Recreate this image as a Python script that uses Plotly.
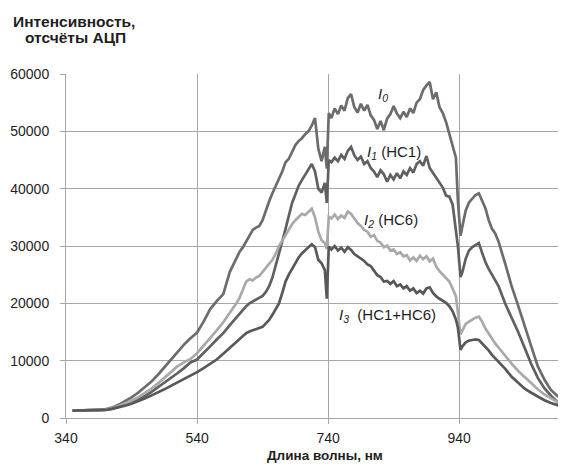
import plotly.graph_objects as go

# Wavelength sampling points, nm
wavelength = [
    350, 360, 370, 380, 390, 400, 410, 420, 430, 440, 450, 460, 470, 480, 490, 500,
    510, 520, 530, 540, 550, 560, 570, 580, 590, 600,
    605, 610, 615, 620, 625, 630, 635, 640, 645, 650, 655, 660, 665, 670, 675, 680,
    685, 690, 695, 700, 705, 710, 715, 720, 725, 730, 735,
    738, 741,
    745, 750, 755, 760, 765, 770, 775, 780, 785, 790,
    795, 800, 805, 810, 815, 820, 825, 830, 835, 840,
    845, 850, 855, 860, 865, 870, 875, 880, 885, 890,
    895, 900, 905, 910, 915, 920, 925, 930, 935,
    938, 942,
    945, 950, 955, 960, 965, 970, 975, 980, 985, 990, 995, 1000,
    1010, 1020, 1030, 1040, 1050, 1060, 1070, 1080, 1090, 1100,
]

I0 = [
    1300, 1300, 1300, 1350, 1400, 1500, 1800, 2300, 2900, 3600, 4400, 5300, 6300, 7500, 8800, 10100,
    11500, 12800, 13900, 14900, 16800, 19000, 20400, 21600, 25500, 27800,
    29000, 29800, 30800, 32000, 32800, 33200, 33500, 34500, 36300, 37800, 39200, 40500, 41600, 43000, 44600, 45200,
    46400, 47600, 48300, 48800, 49500, 50000, 51000, 52300, 47000, 44800, 47300,
    43500, 53200,
    52300, 54000, 53000, 54500, 53600, 55800, 56500, 54200, 53300, 54800,
    53600, 54600, 52800, 52000, 50400, 51800, 50200, 52200, 53000, 54400,
    53100, 52300, 53400, 52500, 54000, 53200, 55000, 55600, 57200, 58000,
    58600, 55600, 56800, 54200, 53200, 51600, 49600, 47400, 45400,
    38000, 31800,
    33500, 36200, 37600, 38300, 38900, 39200, 38000, 36600, 34500, 33000, 32200, 30800,
    27000, 23000, 19600, 16200, 12500, 9000, 6700, 4900, 3800, 3100,
]

I1 = [
    1300, 1300, 1300, 1300, 1350, 1400, 1600, 1900, 2300, 2700, 3200, 3800, 4500, 5300, 6200, 7000,
    7800, 8700, 9700, 10200, 11300, 12500, 13700, 14800, 16200, 17500,
    18200, 18900, 19500, 20000, 20300, 20600, 20900, 21300, 22000, 23000, 24500, 26500, 28800, 30800, 33000, 35500,
    37500, 39000, 40500, 41500, 42500, 43500, 44300, 43000, 40000, 39300, 41000,
    37500, 45000,
    44600, 45400, 44800, 45900, 45200, 46600, 47300, 45800, 45000, 45600,
    44300, 44800, 43600, 43000, 42000, 43200, 42500, 41200, 42400, 41600,
    42700, 41800, 43000, 42400, 43600, 42800, 44300, 44800, 44000, 45700,
    43600, 42800, 41800, 41200, 40200, 38800, 38600, 37200, 33000,
    30000, 24600,
    25500, 27800, 29200, 29800, 30200, 30500, 28800, 27200, 26000, 25000, 24100, 23000,
    20000, 17600, 15000, 12200, 9400, 7000, 5200, 3900, 2800, 2100,
]

I2 = [
    1300, 1300, 1300, 1300, 1350, 1450, 1700, 2100, 2500, 3000, 3600, 4300, 5100, 6000, 7000, 8100,
    9000, 9700, 10300, 11300, 12600, 14000, 15300, 16700, 18300, 20000,
    21000, 22300, 23800, 24200, 24000, 24500, 24800, 25500, 26300, 26900, 27600, 28600, 30000, 31000, 32000, 33000,
    33800, 34500, 35000, 35600, 35400, 36000, 36500, 35000, 32500, 31000, 30500,
    29500, 35100,
    34800, 35500, 34700, 35300, 34900, 36000, 35600, 34800, 34000, 33500,
    32800, 32500, 31600, 31900, 30900, 30600, 29800, 30100, 29200, 29400,
    28600, 28900, 28200, 28400, 27500, 28000, 27400, 28300, 27700, 28200,
    27300, 27800, 26400, 25600, 25000, 24300, 23800, 22600, 21200,
    18500, 14600,
    15300, 16400, 16800, 17200, 17500, 17700, 16800, 15600, 14700, 13800, 13000, 12300,
    10800, 9500, 8200, 7100, 6000, 5000, 4100, 3400, 2800, 2300,
]

I3 = [
    1300, 1300, 1300, 1300, 1300, 1400, 1600, 1850, 2150, 2500, 2900, 3400, 3900, 4400, 5000, 5600,
    6200, 6700, 7300, 8000, 8700, 9500, 10200, 11200, 12300, 13300,
    13800, 14300, 14800, 15100, 15300, 15500, 15700, 15900, 16500, 17100, 18000, 19000, 20000, 21800, 23800, 25000,
    26000, 27200, 28000, 28700, 29300, 29800, 30300, 29800, 27600, 27000, 25800,
    20800, 29900,
    29400, 30000, 29200, 29700, 29000, 29800, 29300, 28600, 28200, 27800,
    27400, 26800, 26500, 25700, 24900, 24600, 23800, 23900, 23400, 23900,
    23000, 23300, 22600, 23000, 22200, 22600, 21800, 22200, 21700, 22600,
    22800, 21800, 21200, 20800, 20400, 20100, 19500, 18600, 17200,
    15800, 11900,
    12500, 13200, 13500, 13600, 13700, 13600, 13000, 12300, 11800, 11000, 10400, 9800,
    8600, 7200, 6100, 5100, 4400, 3700, 3100, 2600, 2200, 1900,
]

x_ticks = [340, 540, 740, 940]
y_ticks = [0, 10000, 20000, 30000, 40000, 50000, 60000]

series = [
    ("I0", I0, "#6c6c6c"),
    ("I1", I1, "#606060"),
    ("I2", I2, "#a9a9a9"),
    ("I3", I3, "#585858"),
]

FONT = "Liberation Sans, Arial, sans-serif"
GRID = "#a6a6a6"
TXT = "#1e1e1e"

fig = go.Figure()
for name, vals, col in series:
    fig.add_trace(go.Scatter(x=wavelength, y=vals, mode="lines", name=name,
                             line=dict(color=col, width=2.7), showlegend=False,
                             hoverinfo="skip"))

labels = [
    ("<i>I<sub>0</sub></i>", 824, 56500),
    ("<i>I<sub>1</sub></i> (HC1)", 840, 46300),
    ("<i>I<sub>2</sub></i> (HC6)", 836, 34400),
    ("<i>I<sub>3</sub></i>  (HC1+HC6)", 830, 17800),
]
for txt, lx, ly in labels:
    fig.add_annotation(x=lx, y=ly, xref="x", yref="y", text=txt, showarrow=False,
                       font=dict(family=FONT, size=15, color=TXT),
                       xanchor="center", yanchor="middle")

fig.add_annotation(x=0.518, y=-0.110, xref="paper", yref="paper",
                   text="<b>Длина волны, нм</b>", showarrow=False,
                   font=dict(family=FONT, size=13.5, color=TXT),
                   xanchor="center", yanchor="middle")
fig.add_annotation(x=0.016, y=1.153, xref="paper", yref="paper",
                   text="<b>Интенсивность,</b>", showarrow=False,
                   font=dict(family=FONT, size=15.5, color=TXT),
                   xanchor="center", yanchor="middle")
fig.add_annotation(x=0.018, y=1.106, xref="paper", yref="paper",
                   text="<b>отсчёты АЦП</b>", showarrow=False,
                   font=dict(family=FONT, size=15.5, color=TXT),
                   xanchor="center", yanchor="middle")

# page body has an 8px default margin, so the figure is offset by 8px
fig.update_layout(
    width=558, height=462,
    margin=dict(l=58, r=0, t=66, b=52),
    paper_bgcolor="white", plot_bgcolor="white",
    font=dict(family=FONT, size=14, color=TXT),
    xaxis=dict(range=[340, 1103], tickvals=x_ticks, ticktext=[str(v) for v in x_ticks],
               showgrid=True, gridcolor=GRID, gridwidth=1,
               showline=True, linecolor=GRID, linewidth=1,
               ticks="outside", ticklen=5, tickcolor=GRID,
               zeroline=False, ticklabelstandoff=2),
    yaxis=dict(range=[0, 60000], tickvals=y_ticks, tickformat="d",
               showgrid=True, gridcolor=GRID, gridwidth=1,
               showline=True, linecolor=GRID, linewidth=1,
               ticks="outside", ticklen=5, tickcolor=GRID,
               zeroline=False, ticklabelstandoff=8),
)

fig.write_html("out.html")
